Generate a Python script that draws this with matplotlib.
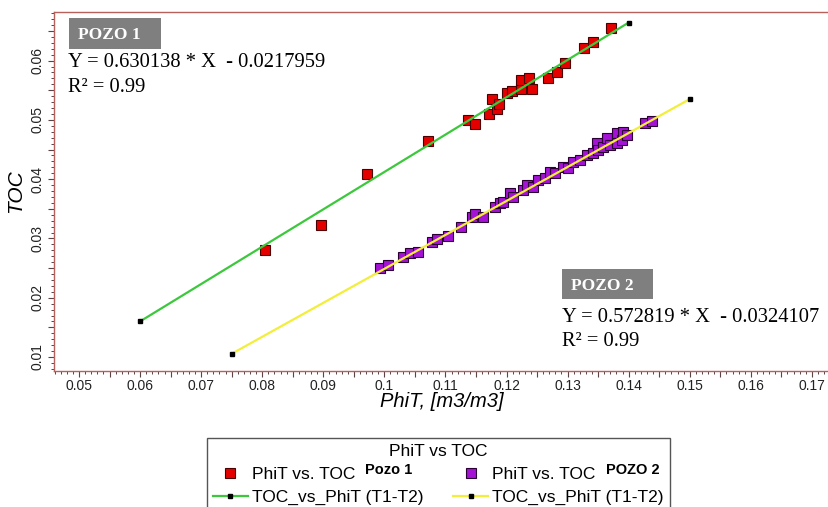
import matplotlib
matplotlib.use("Agg")
import matplotlib.pyplot as plt
from matplotlib.ticker import MultipleLocator, FuncFormatter
from matplotlib.patches import Rectangle

plt.rcParams['font.family'] = ['Liberation Sans', 'DejaVu Sans']

# Pozo 1 samples (PhiT, TOC)
phit_p1 = [0.0804, 0.0896, 0.0971, 0.1071, 0.1137, 0.1148, 0.1171, 0.1176,
           0.1184, 0.1187, 0.1200, 0.1209, 0.1223, 0.1223, 0.1236, 0.1241,
           0.1268, 0.1282, 0.1295, 0.1327, 0.1341, 0.1371]
toc_p1 = [0.0281, 0.0323, 0.0409, 0.0464, 0.0500, 0.0493, 0.0510, 0.0535,
          0.0518, 0.0527, 0.0545, 0.0549, 0.0552, 0.0567, 0.0571, 0.0552,
          0.0571, 0.0581, 0.0596, 0.0621, 0.0631, 0.0655]

# Pozo 2 samples (PhiT, TOC)
phit_p2 = [0.0993, 0.1006, 0.1030, 0.1042, 0.1055, 0.1078, 0.1086, 0.1104,
           0.1125, 0.1143, 0.1148, 0.1161, 0.1181, 0.1189, 0.1194, 0.1206,
           0.1211, 0.1227, 0.1234, 0.1243, 0.1252, 0.1263, 0.1271, 0.1279,
           0.1292, 0.1300, 0.1309, 0.1320, 0.1331, 0.1341, 0.1348, 0.1349,
           0.1358, 0.1364, 0.1369, 0.1381, 0.1381, 0.1389, 0.1390, 0.1397,
           0.1426, 0.1439]
toc_p2 = [0.0251, 0.0256, 0.0269, 0.0276, 0.0278, 0.0294, 0.0299, 0.0305,
          0.0320, 0.0337, 0.0342, 0.0337, 0.0353, 0.0360, 0.0362, 0.0377,
          0.0370, 0.0382, 0.0390, 0.0387, 0.0399, 0.0402, 0.0412, 0.0411,
          0.0421, 0.0419, 0.0429, 0.0432, 0.0441, 0.0444, 0.0461, 0.0449,
          0.0454, 0.0470, 0.0458, 0.0478, 0.0461, 0.0466, 0.0480, 0.0475,
          0.0495, 0.0498]

# regression lines (slope, intercept, x range)
fit_p1 = (0.630138, -0.0217959)
fit_p2 = (0.572819, -0.0324107)
fit_x_p1 = [0.06, 0.14]
fit_x_p2 = [0.075, 0.15]

fig = plt.figure(figsize=(8.29, 5.07), dpi=100)
ax = fig.add_axes([0.0651, 0.2682, 0.9349, 0.7081])

spine_col = '#b8605c'
tick_col = '#5a4444'

ax.plot(phit_p1, toc_p1, 's', ms=7.5, mfc='#e50000', mec='#4a0000', mew=0.8,
        ls='none', zorder=2, label='PhiT vs. TOC')
ax.plot(phit_p2, toc_p2, 's', ms=7.2, mfc='#a412d6', mec='#2a0033', mew=0.8,
        ls='none', zorder=2, label='PhiT vs. TOC')
ax.plot(fit_x_p1, [fit_p1[0] * x + fit_p1[1] for x in fit_x_p1],
        color='#3cc83c', lw=1.6, marker='s', ms=3, mfc='black', mec='black',
        zorder=3, label='TOC_vs_PhiT (T1-T2)')
ax.plot(fit_x_p2, [fit_p2[0] * x + fit_p2[1] for x in fit_x_p2],
        color='#f2ee3a', lw=1.6, marker='s', ms=3, mfc='black', mec='black',
        zorder=3, label='TOC_vs_PhiT (T1-T2)')

ax.set_xlim(0.0459, 0.1728)
ax.set_ylim(0.00764, 0.0682)


def fmt(v, pos):
    v = round(v, 4)
    if abs(round(v * 100) - v * 100) > 1e-6:
        return ''
    return '%g' % v


for axis in (ax.xaxis, ax.yaxis):
    axis.set_major_locator(MultipleLocator(0.005))
    axis.set_minor_locator(MultipleLocator(0.001))
    axis.set_major_formatter(FuncFormatter(fmt))

ax.tick_params(which='major', direction='out', length=4, width=0.8,
               color=tick_col, labelsize=10, labelcolor='#222222')
ax.tick_params(which='minor', direction='out', length=2, width=0.7,
               color=tick_col)
ax.tick_params(axis='x', pad=2)
ax.tick_params(axis='y', pad=3)
for lab in ax.get_yticklabels():
    lab.set_rotation(90)
    lab.set_va('center')

for side in ('left', 'bottom', 'top'):
    ax.spines[side].set_color(spine_col)
    ax.spines[side].set_linewidth(1.0)
ax.spines['right'].set_visible(False)

ax.set_xlabel('PhiT, [m3/m3]', fontsize=14.5, style='italic', labelpad=-1)
ax.set_ylabel('TOC', fontsize=15, style='italic', labelpad=4)

# equation boxes
serif = ['Liberation Serif', 'DejaVu Serif']
ax.add_patch(Rectangle((0.0194, 0.897), 0.1187, 0.086, transform=ax.transAxes,
                       fc='#7f7f7f', ec='none', zorder=4))
ax.text(0.0310, 0.935, 'POZO 1', transform=ax.transAxes, family=serif,
        fontsize=12.5, fontweight='bold', color='white', va='center', zorder=5)
ax.text(0.018, 0.858, 'Y = 0.630138 * X  - 0.0217959', transform=ax.transAxes,
        family=serif, fontsize=14.8, va='center')
ax.text(0.018, 0.789, 'R² = 0.99', transform=ax.transAxes,
        family=serif, fontsize=14.8, va='center')

ax.add_patch(Rectangle((0.6555, 0.2006), 0.1174, 0.0836, transform=ax.transAxes,
                       fc='#7f7f7f', ec='none', zorder=4))
ax.text(0.6671, 0.2368, 'POZO 2', transform=ax.transAxes, family=serif,
        fontsize=12.5, fontweight='bold', color='white', va='center', zorder=5)
ax.text(0.6555, 0.1504, 'Y = 0.572819 * X  - 0.0324107', transform=ax.transAxes,
        family=serif, fontsize=14.8, va='center')
ax.text(0.6555, 0.0836, 'R² = 0.99', transform=ax.transAxes,
        family=serif, fontsize=14.8, va='center')

handles, labels = ax.get_legend_handles_labels()
order = [0, 2, 1, 3]
leg = fig.legend([handles[i] for i in order], [labels[i] for i in order],
                 ncol=2, loc='upper left', bbox_to_anchor=(0.2497, 0.1361),
                 borderaxespad=0, title='PhiT vs TOC', fontsize=12.5,
                 title_fontsize=12.5, numpoints=1, handlelength=2.0,
                 handletextpad=0.25, columnspacing=1.7, labelspacing=0.45,
                 borderpad=0.35, fancybox=False, framealpha=1,
                 edgecolor='#555555')
leg.get_frame().set_linewidth(1.0)

fig.text(365 / 829, 1 - 470 / 507, 'Pozo 1', fontsize=10.5, fontweight='bold',
         va='center', zorder=10)
fig.text(606 / 829, 1 - 470 / 507, 'POZO 2', fontsize=10.5, fontweight='bold',
         va='center', zorder=10)

fig.savefig('out.png', dpi=100)
